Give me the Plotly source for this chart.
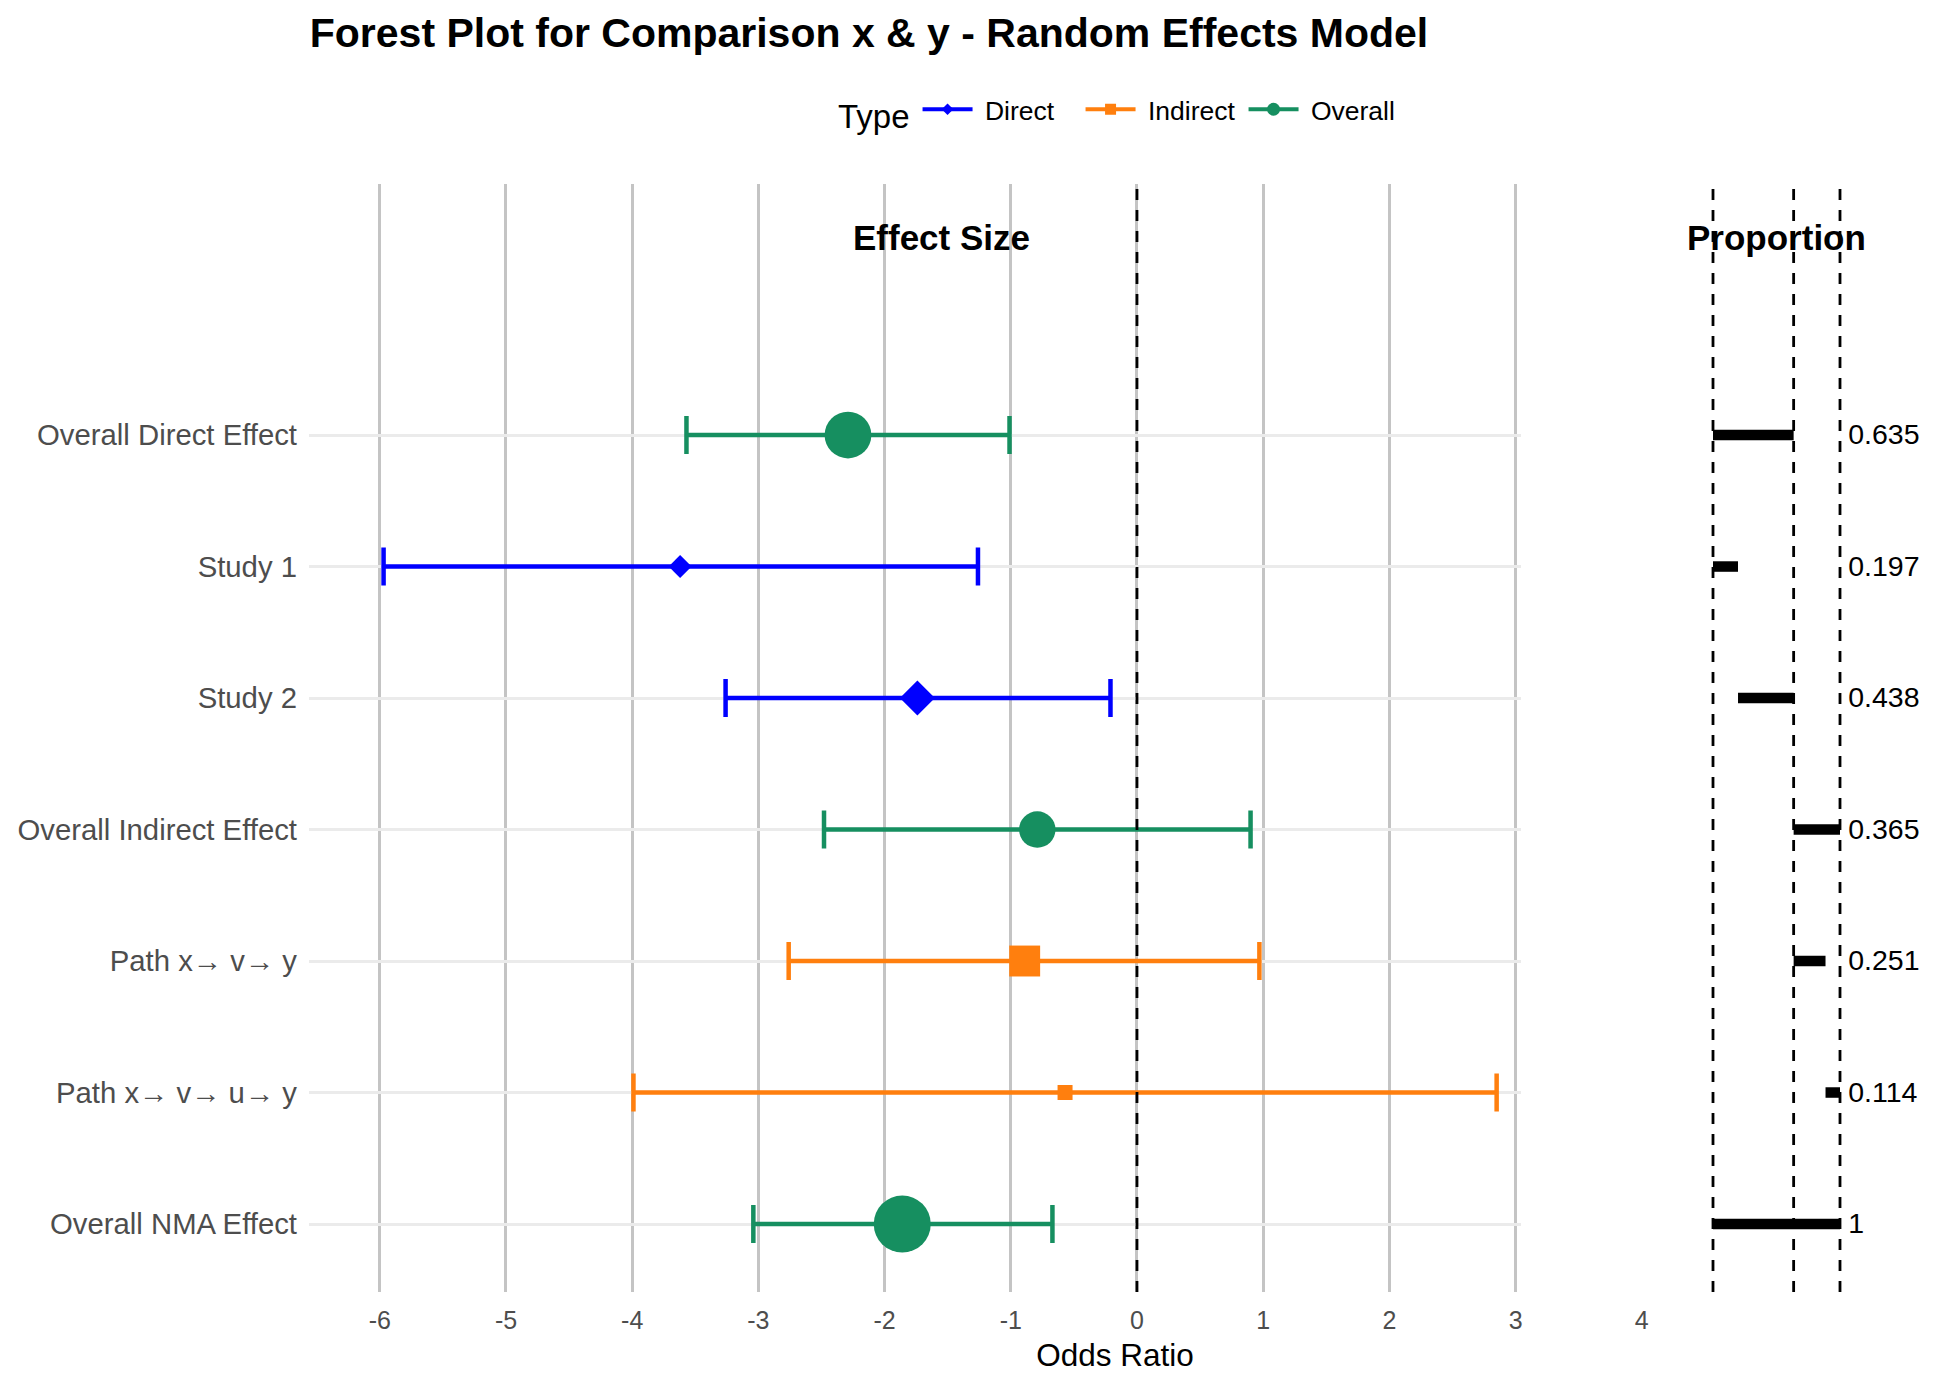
import numpy as np
import plotly.graph_objects as go

# rows, top to bottom
labels = ["Overall Direct Effect", "Study 1", "Study 2", "Overall Indirect Effect",
          "Path x\u2192 v\u2192 y", "Path x\u2192 v\u2192 u\u2192 y", "Overall NMA Effect"]
types = ["Overall", "Direct", "Direct", "Overall", "Indirect", "Indirect", "Overall"]
estimate = [-2.29, -3.62, -1.74, -0.79, -0.89, -0.57, -1.86]
lower = [-3.57, -5.97, -3.26, -2.48, -2.76, -3.99, -3.04]
upper = [-1.01, -1.26, -0.21, 0.90, 0.97, 2.85, -0.67]
proportion = [0.635, 0.197, 0.438, 0.365, 0.251, 0.114, 1]
bar_start = [0, 0, 0.197, 0.635, 0.635, 0.886, 0]
x_ticks = list(range(-6, 5))

type_order = ["Direct", "Indirect", "Overall"]
colors = {"Direct": "#0000FF", "Indirect": "#FF7F0E", "Overall": "#168F60"}
symbols = {"Direct": "diamond", "Indirect": "square", "Overall": "circle"}

# page puts the plot 8px in from the top left corner
OFF = 8
W, H = 1936 - OFF, 1386 - OFF
FONT = "Liberation Sans, Arial, Helvetica, sans-serif"


def fx(px):
    return (px - OFF) / W


def fy(py):
    return 1 - (py - OFF) / H


n = len(labels)
ypos = [n - i for i in range(n)]

# point size like ggplot scale_size (area scaling, range 1..6)
p = np.array(proportion)
gg = 1 + 5 * np.sqrt((p - p.min()) / (p.max() - p.min()))


def marker_px(t, s):
    if t == "Overall":
        return 4.2 + 8.8 * s
    if t == "Indirect":
        return 6.9 + 8.1 * s
    return (2.6 + 8.05 * s) / 1.3


fig = go.Figure()

for t in type_order:
    idx = [i for i in range(n) if types[i] == t]
    fig.add_trace(go.Scatter(
        x=[estimate[i] for i in idx],
        y=[ypos[i] for i in idx],
        mode="markers",
        marker=dict(color=colors[t], symbol=symbols[t], opacity=1,
                    size=[marker_px(t, gg[i]) for i in idx], line=dict(width=0)),
        error_x=dict(type="data", symmetric=False,
                     array=[upper[i] - estimate[i] for i in idx],
                     arrayminus=[estimate[i] - lower[i] for i in idx],
                     color=colors[t], thickness=4.5, width=19),
        showlegend=False, hoverinfo="skip",
    ))

# legend entries
legend_sizes = {"Direct": 9, "Indirect": 11, "Overall": 13}
for t in type_order:
    fig.add_trace(go.Scatter(
        x=[None], y=[None], mode="lines+markers", name="\u00a0" + t,
        line=dict(color=colors[t], width=4),
        marker=dict(color=colors[t], symbol=symbols[t], size=legend_sizes[t]),
    ))

# proportion panel
fig.add_trace(go.Bar(
    x=proportion, base=bar_start, y=ypos, orientation="h",
    marker=dict(color="black", line=dict(width=0)), width=0.08,
    xaxis="x2", yaxis="y2", showlegend=False, hoverinfo="skip",
))
fig.add_trace(go.Scatter(
    x=[max(proportion) + 0.065] * n, y=[v - 0.015 for v in ypos], mode="text",
    text=[f"{v:g}" for v in proportion], textposition="middle right",
    textfont=dict(size=28.5, color="black", family=FONT),
    xaxis="x2", yaxis="y2", showlegend=False, hoverinfo="skip", cliponaxis=False,
))

# carrier for the wide bottom axis
fig.add_trace(go.Scatter(x=[None], y=[None], xaxis="x3", yaxis="y3",
                         showlegend=False, hoverinfo="skip"))

# dashed reference lines
dash_line = dict(color="black", width=2.8, dash="11px,10px")
fig.add_shape(type="line", xref="x", yref="y domain", x0=0, x1=0, y0=0, y1=1, line=dash_line)
for v in [0, proportion[0], max(proportion)]:
    fig.add_shape(type="line", xref="x2", yref="y2 domain", x0=v, x1=v, y0=0, y1=1,
                  line=dash_line)

y_range = [0.483, 8.909]
y_dom = [fy(1292), fy(184)]
x_range = [-6.561, 3.043]

fig.add_annotation(x=-1.55, y=8.5, xref="x", yref="y", text="<b>Effect Size</b>",
                   showarrow=False, font=dict(size=35, color="black", family=FONT))
fig.add_annotation(x=0.5, y=8.5, xref="x2", yref="y2", text="<b>Proportion</b>",
                   showarrow=False, font=dict(size=35, color="black", family=FONT))

fig.update_layout(
    width=W, height=H,
    margin=dict(l=0, r=0, t=0, b=0, autoexpand=False),
    paper_bgcolor="white", plot_bgcolor="rgba(0,0,0,0)",
    font=dict(family=FONT, color="black"),
    title=dict(text="<b>Forest Plot for Comparison x & y - Random Effects Model</b>",
               x=fx(869), xanchor="center", y=fy(33), yanchor="middle",
               font=dict(size=41, color="black", family=FONT)),
    legend=dict(orientation="h", x=fx(836), xanchor="left", y=fy(112), yanchor="middle",
                title=dict(text="Type", font=dict(size=33, color="black")),
                font=dict(size=26.5, color="black"), bgcolor="rgba(0,0,0,0)",
                itemwidth=50, entrywidth=98, entrywidthmode="pixels"),
    xaxis=dict(domain=[fx(309), fx(1521)], range=x_range, tickvals=x_ticks[:-1],
               showticklabels=False, showgrid=True, gridcolor="#C4C4C4", gridwidth=2.7,
               zeroline=False, showline=False, ticks="", anchor="y"),
    yaxis=dict(domain=y_dom, range=y_range, tickvals=ypos, ticktext=labels,
               showgrid=True, gridcolor="#EBEBEB", gridwidth=2.7, zeroline=False,
               showline=False, ticks="", ticklabelstandoff=11,
               tickfont=dict(size=29.3, color="#4D4D4D", family=FONT), anchor="x"),
    xaxis2=dict(domain=[fx(1690), 1.0], range=[-0.1811, -0.1811 + (1936 - 1690) / 127.0],
                showgrid=False, zeroline=False, showticklabels=False, showline=False,
                ticks="", anchor="y2"),
    yaxis2=dict(domain=y_dom, range=y_range, showgrid=False, zeroline=False,
                showticklabels=False, showline=False, ticks="", anchor="x2"),
    xaxis3=dict(domain=[fx(309), fx(1921)], range=[x_range[0], x_range[0] + 1612 / 126.2],
                tickvals=x_ticks, ticktext=[str(v) for v in x_ticks], showgrid=False,
                zeroline=False, showline=False, ticks="", ticklabelstandoff=11,
                tickfont=dict(size=25, color="#4D4D4D", family=FONT),
                title=dict(text="Odds Ratio", font=dict(size=31.5, color="black"), standoff=10),
                anchor="y3"),
    yaxis3=dict(domain=y_dom, range=y_range, showgrid=False, zeroline=False,
                showticklabels=False, showline=False, ticks="", anchor="x3", visible=False),
)

fig.write_html("out.html")
